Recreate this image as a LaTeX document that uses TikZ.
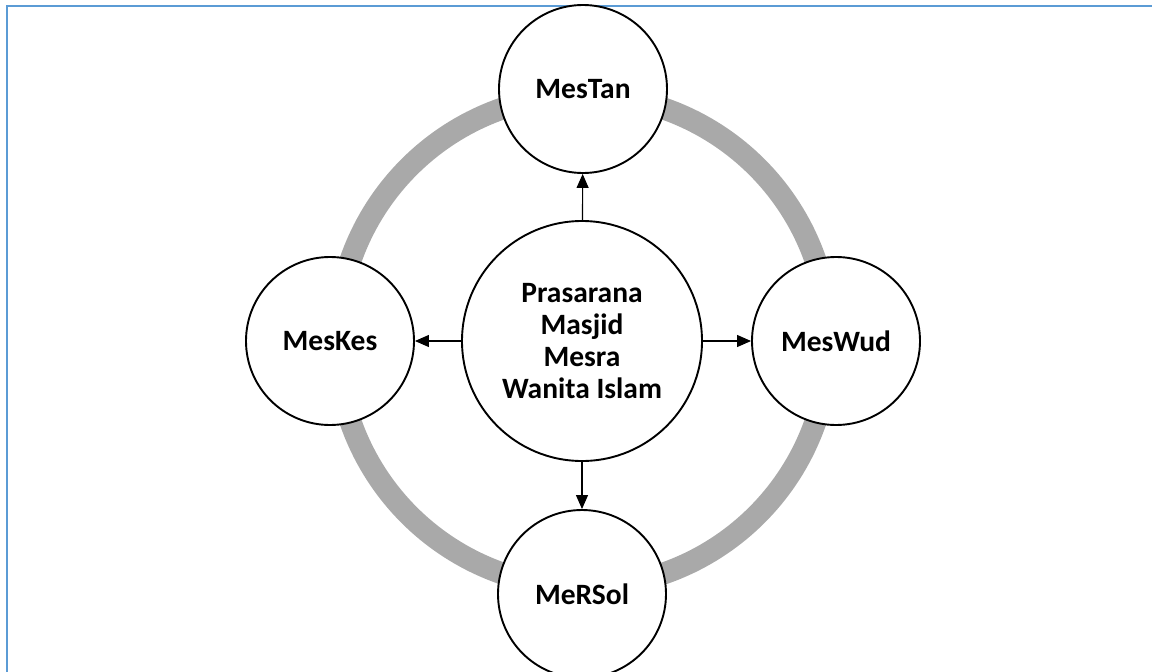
\documentclass[tikz,border=0pt]{standalone}
\usepackage{fontspec}
\setmainfont{Carlito}
\usetikzlibrary{arrows.meta}
\definecolor{ringgray}{HTML}{A9A9A9}
\definecolor{frameblue}{HTML}{5B9BD5}
\tikzset{
  bubble/.style={circle, draw=black, line width=1.9pt, fill=white, inner sep=0pt,
    minimum size=168pt, font=\fontsize{29.5}{32}\selectfont\bfseries, align=center},
  hub/.style={bubble, minimum size=240pt},
  link/.style={line width=1.1pt, -{Triangle[length=14pt,width=12pt]}},
  ring/.style={draw=ringgray, line width=22pt},
  frame/.style={draw=frameblue, line width=2pt}
}
\begin{document}
\begin{tikzpicture}[x=1pt,y=-1pt]
\useasboundingbox (0,0) rectangle (1152,672);
\draw[frame] (7,672) -- (7,6) -- (1152,6);
\draw[ring] (583,341) circle (246);
\node[hub] (c) at (582,341) {Prasarana\\Masjid\\Mesra\\Wanita Islam};
\node[bubble] (t) at (583,89) {MesTan};
\node[bubble] (l) at (330,341) {MesKes};
\node[bubble] (r) at (836,341) {MesWud};
\node[bubble] (b) at (582,594) {MeRSol};
\draw[link] (c) -- (t);
\draw[link] (c) -- (l);
\draw[link] (c) -- (r);
\draw[link] (c) -- (b);
\end{tikzpicture}
\end{document}
